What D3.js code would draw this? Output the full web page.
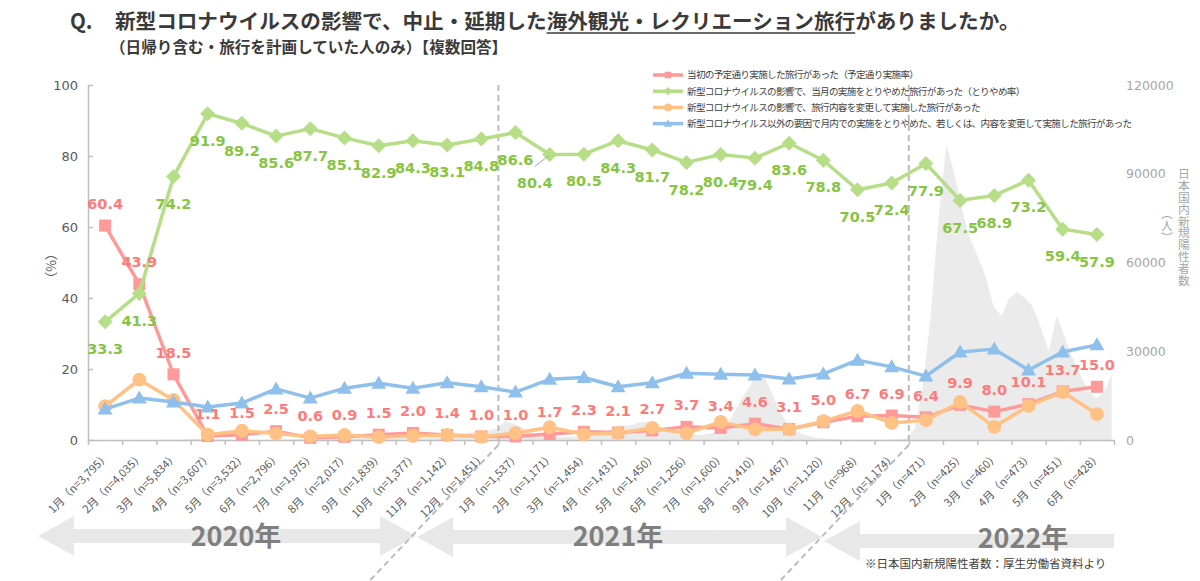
<!DOCTYPE html>
<html>
<head>
<meta charset="utf-8">
<script src="https://cdn.jsdelivr.net/npm/d3@7"></script>
<style>
body { margin: 0; background: #fff; }
svg { display: block; }
</style>
</head>
<body>
<div id="chart"></div>
<script>
var width = 1200,
	height = 581;

var xLabels = [
	"1月（n=3,795）", "2月（n=4,035）", "3月（n=5,834）", "4月（n=3,607）", "5月（n=3,532）", "6月（n=2,796）",
	"7月（n=1,975）", "8月（n=2,017）", "9月（n=1,839）", "10月（n=1,377）", "11月（n=1,142）", "12月（n=1,451）",
	"1月（n=1,537）", "2月（n=1,171）", "3月（n=1,454）", "4月（n=1,431）", "5月（n=1,450）", "6月（n=1,256）",
	"7月（n=1,600）", "8月（n=1,410）", "9月（n=1,467）", "10月（n=1,120）", "11月（n=968）", "12月（n=1,174）",
	"1月（n=471）", "2月（n=425）", "3月（n=460）", "4月（n=473）", "5月（n=451）", "6月（n=428）"
];

// 当初の予定通り実施
var planned = [60.4, 43.9, 18.5, 1.1, 1.5, 2.5, 0.6, 0.9, 1.5, 2.0, 1.4, 1.0,
	1.0, 1.7, 2.3, 2.1, 2.7, 3.7, 3.4, 4.6, 3.1, 5.0, 6.7, 6.9,
	6.4, 9.9, 8.0, 10.1, 13.7, 15.0];

// とりやめ率
var cancelled = [33.3, 41.3, 74.2, 91.9, 89.2, 85.6, 87.7, 85.1, 82.9, 84.3, 83.1, 84.8,
	86.6, 80.4, 80.5, 84.3, 81.7, 78.2, 80.4, 79.4, 83.6, 78.8, 70.5, 72.4,
	77.9, 67.5, 68.9, 73.2, 59.4, 57.9];

// 旅行内容を変更して実施
var changed = [9.5, 17.0, 11.3, 1.5, 2.6, 1.8, 1.0, 1.4, 0.8, 1.2, 1.4, 0.9,
	1.9, 3.6, 1.6, 2.0, 3.4, 1.9, 5.1, 3.0, 3.0, 5.3, 8.2, 4.8,
	5.6, 10.7, 3.7, 9.6, 13.5, 7.3];

// コロナ以外の要因
var otherReason = [8.7, 11.8, 10.7, 9.3, 10.4, 14.4, 11.8, 14.6, 16.0, 14.6, 16.1, 15.0,
	13.5, 17.1, 17.6, 15.0, 16.1, 18.8, 18.5, 18.3, 17.2, 18.6, 22.5, 20.6,
	18.0, 24.8, 25.6, 19.7, 24.8, 26.8];

// 日本国内新規陽性者数（週ごと、2020/1/1から7日おき）
var casesStart = new Date(2020, 0, 1);
var casesWeekly = [
	0, 0, 1, 2, 3, 5, 10, 15, 20, 40, 50, 50, 150,
	300, 500, 500, 350, 200, 100, 40, 30, 40, 40, 50, 60, 100,
	200, 350, 600, 900, 1300, 1400, 1100, 900, 700, 550, 500, 450, 450,
	500, 550, 550, 550, 700, 1000, 1600, 2100, 2200, 2300, 2700, 2900, 3300, 4000,
	6500, 5500, 4500, 3000, 2000, 1400, 1200, 1000, 1100, 1200, 1400, 1800, 2400,
	3200, 4300, 4800, 5000, 6000, 6200, 5000, 3800, 2800, 1900, 1500, 1600,
	1800, 2200, 3000, 4500, 9000, 14000, 18000, 23000, 21000, 15000, 9000, 5000, 3000,
	1800, 1000, 600, 400, 280, 200, 170, 130, 110, 120, 130, 170, 250, 500,
	4000, 18000, 42000, 75000, 100000, 90000, 78000, 68000, 62000, 55000, 45000, 42000, 48000,
	50000, 48000, 45000, 38000, 30000, 42000, 35000, 28000, 22000, 17000, 14000, 16000, 22000
];

var yTicks = [0, 20, 40, 60, 80, 100];
var y2Ticks = [0, 30000, 60000, 90000, 120000];
var years = ["2020年", "2021年", "2022年"];

var legendNames = [
	"当初の予定通り実施した旅行があった（予定通り実施率）",
	"新型コロナウイルスの影響で、当月の実施をとりやめた旅行があった（とりやめ率）",
	"新型コロナウイルスの影響で、旅行内容を変更して実施した旅行があった",
	"新型コロナウイルス以外の要因で月内での実施をとりやめた、若しくは、内容を変更して実施した旅行があった"
];

var plotLeft = 88, plotRight = 1114, plotTop = 85, plotBottom = 440;
var jp = "'Noto Sans CJK JP', 'Noto Sans', sans-serif";
var num = "'DejaVu Sans', Verdana, sans-serif";

var series = [
	{values: planned, color: "#ff9a9a", label: "#ff7a7a", marker: "square", showLabels: "above"},
	{values: cancelled, color: "#b5de86", label: "#86c540", marker: "diamond", showLabels: "below"},
	{values: changed, color: "#ffc184", label: null, marker: "circle", showLabels: null},
	{values: otherReason, color: "#8fc0eb", label: null, marker: "triangle", showLabels: null}
];

var markerPath = {
	square: "M-6,-6H6V6H-6Z",
	diamond: "M0,-7.5L7.5,0L0,7.5L-7.5,0Z",
	circle: d3.symbol(d3.symbolCircle, 150)(),
	triangle: "M0,-7.5L7.5,5.5L-7.5,5.5Z"
};

var svg = d3.select("#chart").append("svg")
	.attr("width", width)
	.attr("height", height)
	.style("background-color", "#fff");

var x = d3.scaleBand()
	.domain(d3.range(xLabels.length))
	.range([plotLeft, plotRight]);
var bw = x.bandwidth();
var y = d3.scaleLinear().domain([0, 100]).range([plotBottom, plotTop]);
var y2 = d3.scaleLinear().domain([0, 120000]).range([plotBottom, plotTop]);
var xt = d3.scaleTime()
	.domain([new Date(2020, 0, 1), new Date(2022, 6, 1)])
	.range([plotLeft, plotRight]);

// title
var title = svg.append("text")
	.attr("y", 29)
	.attr("font-family", jp)
	.attr("font-weight", "bold")
	.attr("font-size", 20.6)
	.attr("fill", "#3a3a3a");
title.append("tspan").attr("x", 70).text("Q.");
var t1 = title.append("tspan").attr("x", 115).text("新型コロナウイルスの影響で、中止・延期した");
var t2 = title.append("tspan").text("海外観光・レクリエーション旅行");
title.append("tspan").text("がありましたか。");
var u0 = 115 + t1.node().getComputedTextLength();
var u1 = u0 + t2.node().getComputedTextLength();
svg.append("line")
	.attr("x1", u0).attr("x2", u1)
	.attr("y1", 33).attr("y2", 33)
	.attr("stroke", "#3a3a3a").attr("stroke-width", 1.5);

svg.append("text")
	.attr("x", 110).attr("y", 53)
	.attr("font-family", jp)
	.attr("font-weight", "bold")
	.attr("font-size", 15.6)
	.attr("fill", "#3a3a3a")
	.text("（日帰り含む・旅行を計画していた人のみ）【複数回答】");

// cases background
svg.append("clipPath").attr("id", "plotclip")
	.append("rect")
	.attr("x", plotLeft).attr("y", plotTop)
	.attr("width", plotRight - plotLeft).attr("height", plotBottom - plotTop);

var area = d3.area()
	.x(function(d, i){ return xt(d3.timeDay.offset(casesStart, i * 7)); })
	.y0(plotBottom)
	.y1(function(d){ return y2(d); });

svg.append("path")
	.datum(casesWeekly)
	.attr("clip-path", "url(#plotclip)")
	.attr("d", area)
	.attr("fill", "#ebebeb");

// year arrows
function arrowPath(x0, x1, cy, leftHead, rightHead){
	var bh = 7, hh = 20, hl = 36;
	var p = d3.path();
	var bx0 = leftHead ? x0 + hl : x0;
	var bx1 = rightHead ? x1 - hl : x1;
	p.moveTo(bx0, cy - bh);
	p.lineTo(bx1, cy - bh);
	if(rightHead){
		p.lineTo(bx1, cy - hh);
		p.lineTo(x1, cy);
		p.lineTo(bx1, cy + hh);
	}
	p.lineTo(bx1, cy + bh);
	p.lineTo(bx0, cy + bh);
	if(leftHead){
		p.lineTo(bx0, cy + hh);
		p.lineTo(x0, cy);
		p.lineTo(bx0, cy - hh);
	}
	p.closePath();
	return p.toString();
}

var arrowDefs = [
	{x0: 38, x1: 416, cy: 536, l: true, r: true, tx: 236, ty: 546},
	{x0: 417, x1: 822, cy: 537, l: true, r: true, tx: 618, ty: 546},
	{x0: 824, x1: plotRight, cy: 541, l: true, r: false, tx: 1023, ty: 548}
];
arrowDefs.forEach(function(a, i){
	svg.append("path")
		.attr("d", arrowPath(a.x0, a.x1, a.cy, a.l, a.r))
		.attr("fill", "#e8e8e8");
	svg.append("text")
		.attr("x", a.tx).attr("y", a.ty)
		.attr("text-anchor", "middle")
		.attr("font-family", jp)
		.attr("font-weight", "bold")
		.attr("font-size", 27)
		.attr("fill", "#7f7f7f")
		.text(years[i]);
});

// year separators
[12, 24].forEach(function(b){
	var bx = x(b);
	svg.append("path")
		.attr("d", "M" + bx + "," + plotTop + "L" + bx + "," + (plotBottom + 5) + "L" + (bx - 129) + "," + height)
		.attr("fill", "none")
		.attr("stroke", "#bcbcbc")
		.attr("stroke-width", 2)
		.attr("stroke-dasharray", "6,4");
});

// axes
var leftAxis = svg.append("g")
	.attr("transform", "translate(" + plotLeft + ",0)")
	.call(d3.axisLeft(y).tickValues(yTicks).tickSizeInner(-5).tickSizeOuter(0).tickPadding(10));
leftAxis.selectAll("text").attr("font-family", num).attr("font-size", 13).attr("fill", "#595959");

var rightAxis = svg.append("g")
	.attr("transform", "translate(" + plotRight + ",0)")
	.call(d3.axisRight(y2).tickValues(y2Ticks).tickFormat(d3.format("d")).tickSizeInner(0).tickSizeOuter(0).tickPadding(12));
rightAxis.selectAll("text").attr("font-family", num).attr("font-size", 12.5).attr("fill", "#a6a6a6");
rightAxis.select(".domain").remove();

var xi = d3.scaleLinear().domain([0, xLabels.length]).range([plotLeft, plotRight]);
var bottomAxis = svg.append("g")
	.attr("transform", "translate(0," + plotBottom + ")")
	.call(d3.axisBottom(xi).tickValues(d3.range(xLabels.length + 1)).tickFormat("").tickSizeInner(5).tickSizeOuter(0));

svg.selectAll(".domain, .tick line")
	.attr("stroke", "#bfbfbf")
	.attr("stroke-width", 1.5);
rightAxis.selectAll(".tick line").remove();

svg.append("g").selectAll("text")
	.data(xLabels)
	.enter()
	.append("text")
	.attr("transform", function(d, i){
		return "translate(" + (x(i) + bw / 2 + 5) + "," + (plotBottom + 17) + ") rotate(-45)";
	})
	.attr("text-anchor", "end")
	.attr("font-family", jp)
	.attr("font-size", 11.2)
	.attr("fill", "#595959")
	.text(function(d){ return d; });

// axis titles
svg.append("text")
	.attr("x", 51).attr("y", 247)
	.style("writing-mode", "vertical-rl")
	.attr("font-family", jp)
	.attr("font-size", 13)
	.attr("fill", "#595959")
	.text("（%）");

svg.append("text")
	.attr("x", 1184).attr("y", 168)
	.style("writing-mode", "vertical-rl")
	.attr("font-family", jp)
	.attr("font-size", 11.8)
	.attr("fill", "#a6a6a6")
	.text("日本国内新規陽性者数");

svg.append("text")
	.attr("x", 1167).attr("y", 208)
	.style("writing-mode", "vertical-rl")
	.attr("font-family", jp)
	.attr("font-size", 11.8)
	.attr("fill", "#a6a6a6")
	.text("（人）");

// series
var line = d3.line()
	.x(function(d, i){ return x(i) + bw / 2; })
	.y(function(d){ return y(d); });

series.forEach(function(s){
	var g = svg.append("g");
	g.append("path")
		.datum(s.values)
		.attr("d", line)
		.attr("fill", "none")
		.attr("stroke", s.color)
		.attr("stroke-width", 3.5)
		.attr("stroke-linejoin", "round");
	g.selectAll(".mk")
		.data(s.values)
		.enter()
		.append("path")
		.attr("class", "mk")
		.attr("transform", function(d, i){
			return "translate(" + (x(i) + bw / 2) + "," + y(d) + ")";
		})
		.attr("d", markerPath[s.marker])
		.attr("fill", s.color);
});

// data labels
series.forEach(function(s){
	if(!s.showLabels){ return; }
	svg.append("g").selectAll("text")
		.data(s.values)
		.enter()
		.append("text")
		.attr("x", function(d, i){
			var cx = x(i) + bw / 2;
			if(s.showLabels === "below" && i === 13){ cx -= 15; }
			return cx;
		})
		.attr("y", function(d, i){
			var off = s.showLabels === "above" ? -22 : 27;
			if(s.showLabels === "below" && i === 13){ off = 28; }
			return y(d) + off;
		})
		.attr("dy", "0.36em")
		.attr("text-anchor", "middle")
		.attr("font-family", num)
		.attr("font-weight", "bold")
		.attr("font-size", 14.5)
		.attr("fill", s.label)
		.text(function(d){ return d.toFixed(1); });
});

// leader line for 80.4
svg.append("line")
	.attr("x1", x(13) + bw / 2 - 15).attr("y1", y(cancelled[13]) + 12)
	.attr("x2", x(13) + bw / 2 - 1).attr("y2", y(cancelled[13]) + 1)
	.attr("stroke", "#a6a6a6").attr("stroke-width", 1);

// legend
var legend = svg.append("g");
legendNames.forEach(function(name, i){
	var ly = 75 + i * 16.2;
	var s = series[i];
	legend.append("line")
		.attr("x1", 653).attr("x2", 683)
		.attr("y1", ly).attr("y2", ly)
		.attr("stroke", s.color).attr("stroke-width", 3.5);
	legend.append("path")
		.attr("transform", "translate(668," + ly + ") scale(0.55)")
		.attr("d", markerPath[s.marker])
		.attr("fill", s.color);
	legend.append("text")
		.attr("x", 687).attr("y", ly)
		.attr("dy", "0.36em")
		.attr("font-family", jp)
		.attr("font-size", 9.6)
		.attr("letter-spacing", -0.7)
		.attr("fill", "#404040")
		.text(name);
});

// footnote
svg.append("text")
	.attr("x", 865).attr("y", 568)
	.attr("font-family", jp)
	.attr("font-size", 11.5)
	.attr("fill", "#404040")
	.text("※日本国内新規陽性者数：厚生労働省資料より");
</script>
</body>
</html>
